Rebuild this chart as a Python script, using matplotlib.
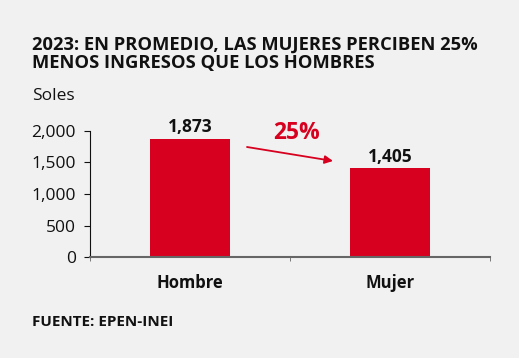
import matplotlib.pyplot as plt
import numpy as np

# data
categories = ["Hombre", "Mujer"]
ingresos = [1873, 1405]
yticks = [0, 500, 1000, 1500, 2000]
brecha = "25%"

bg = "#f0f1f0"
red = "#d7001f"

plt.rcParams["font.family"] = ["Open Sans", "DejaVu Sans"]

fig = plt.figure(figsize=(5.19, 3.58), dpi=100, facecolor=bg)
ax = fig.add_axes([90 / 519, 1 - 257 / 358, 400 / 519, 126 / 358], facecolor=bg)

x = np.arange(len(categories))
ax.bar(x, ingresos, width=0.4, color=red, zorder=2)
for xi, v in zip(x, ingresos):
    ax.text(xi, v + 45, f"{v:,}", ha="center", va="bottom",
            fontsize=12.5, fontweight="bold", color="#111111")

ax.set_xlim(-0.5, 1.5)
ax.set_ylim(0, 2000)
ax.set_yticks(yticks)
ax.set_yticklabels([f"{t:,}" for t in yticks], fontsize=12.5, color="#111111")
ax.set_xticks(x)
ax.set_xticklabels(categories, fontsize=12, fontweight="bold", color="#111111")
ax.set_xticks([-0.5, 0.5, 1.5], minor=True)
ax.tick_params(axis="x", which="major", length=0, pad=12)
ax.tick_params(axis="x", which="minor", length=3, color="#666666", direction="out")
ax.tick_params(axis="y", length=4, color="#111111", pad=6)

for s in ["top", "right"]:
    ax.spines[s].set_visible(False)
ax.spines["left"].set_color("#111111")
ax.spines["bottom"].set_color("#666666")
ax.spines["bottom"].set_linewidth(1.5)

# arrow showing the gap
ax.annotate("", xy=(0.715, 1524), xytext=(0.285, 1746),
            arrowprops=dict(arrowstyle="-|>", color=red, lw=1.3,
                            mutation_scale=12, shrinkA=0, shrinkB=0))
ax.text(0.535, 1968, brecha, ha="center", va="center", fontsize=16.5,
        fontweight="bold", color=red)

fig.text(32 / 519, 1 - 54 / 358,
         "2023: EN PROMEDIO, LAS MUJERES PERCIBEN 25%\nMENOS INGRESOS QUE LOS HOMBRES",
         ha="left", va="center", fontsize=13.2, fontweight="bold",
         color="#111111", linespacing=1.0)
fig.text(32 / 519, 1 - 96 / 358, "Soles", ha="left", va="center",
         fontsize=12.5, color="#111111")
fig.text(32 / 519, 1 - 322 / 358, "FUENTE: EPEN-INEI", ha="left", va="center",
         fontsize=11, fontweight="bold", color="#111111")

fig.savefig("out.png", dpi=100, facecolor=bg)
